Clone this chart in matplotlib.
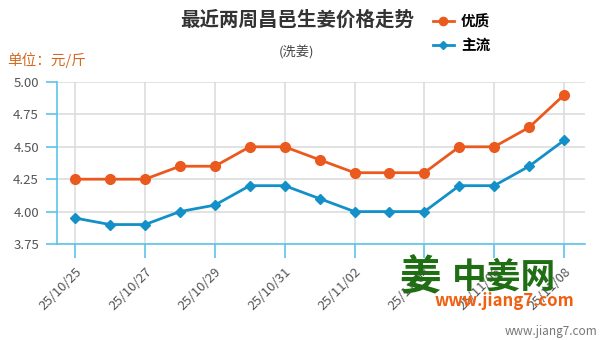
import matplotlib
matplotlib.use('Agg')
import matplotlib.pyplot as plt

plt.rcParams['font.family'] = ['Noto Sans CJK SC', 'DejaVu Sans']

# price data (元/斤)
dates = ['25/10/25', '25/10/26', '25/10/27', '25/10/28', '25/10/29', '25/10/30',
         '25/10/31', '25/11/01', '25/11/02', '25/11/03', '25/11/04', '25/11/05',
         '25/11/06', '25/11/07', '25/11/08']
premium = [4.25, 4.25, 4.25, 4.35, 4.35, 4.50, 4.50, 4.40, 4.30, 4.30, 4.30,
           4.50, 4.50, 4.65, 4.90]
mainstream = [3.95, 3.90, 3.90, 4.00, 4.05, 4.20, 4.20, 4.10, 4.00, 4.00, 4.00,
              4.20, 4.20, 4.35, 4.55]
yticks = [3.75, 4.00, 4.25, 4.50, 4.75, 5.00]

orange = '#ea5a1f'
blue = '#1490c8'
axis_blue = '#5cc3ea'

fig = plt.figure(figsize=(6, 3.4), dpi=100)
ax = fig.add_axes([0.095, 0.2824, 0.88, 0.4764])

x = list(range(len(dates)))
l1, = ax.plot(x, premium, color=orange, lw=2, marker='o', ms=7, zorder=3)
l2, = ax.plot(x, mainstream, color=blue, lw=2, marker='D', ms=5, zorder=3)

ax.set_xlim(-0.52, 14.6)
ax.set_ylim(3.75, 5.0)
ax.set_yticks(yticks)
ax.set_yticklabels(['%.2f' % v for v in yticks])
ax.set_xticks(x[::2])
ax.set_xticklabels(dates[::2], rotation=45, ha='right', va='top',
                   rotation_mode='anchor')

ax.grid(True, color='#dddddd', lw=1.2)
ax.set_axisbelow(True)
for s in ['top', 'right']:
    ax.spines[s].set_visible(False)
for s in ['left', 'bottom']:
    ax.spines[s].set_color(axis_blue)
    ax.spines[s].set_linewidth(1.2)
ax.tick_params(axis='both', colors=axis_blue, labelcolor='#555555',
               labelsize=9.5, width=1.2)
ax.tick_params(axis='y', length=8, pad=5)
ax.tick_params(axis='x', length=10, pad=5)

fig.text(0.495, 0.94, '最近两周昌邑生姜价格走势', ha='center', va='center',
         fontsize=14, fontweight='bold', color='#333333')
fig.text(0.495, 0.845, '(洗姜)', ha='center', va='center', fontsize=9.5,
         color='#444444')
fig.text(0.012, 0.822, '单位：元/斤', ha='left', va='center', fontsize=10.5,
         color='#d2691e')

leg = fig.legend([l1, l2], ['优质', '主流'], loc='upper left',
                 bbox_to_anchor=(0.7, 1.0), frameon=False,
                 prop={'size': 10.5, 'weight': 'bold'}, handlelength=1.4,
                 labelspacing=0.55, handletextpad=0.5, markerscale=0.85)

# site watermark
fig.text(0.7, 0.18, '姜', ha='center', va='center', fontsize=30,
         fontweight='bold', color='#1f6e14')
fig.text(0.84, 0.185, '中姜网', ha='center', va='center', fontsize=25,
         fontweight='bold', color='#1f6e14')
fig.text(0.84, 0.115, 'www.jiang7.com', ha='center', va='center', fontsize=12,
         fontweight='bold', fontstyle='italic', color='#f06010')
fig.text(0.995, 0.024, 'www.jiang7.com', ha='right', va='center', fontsize=8.5,
         color='#777777')

fig.savefig('out.png', dpi=100)
